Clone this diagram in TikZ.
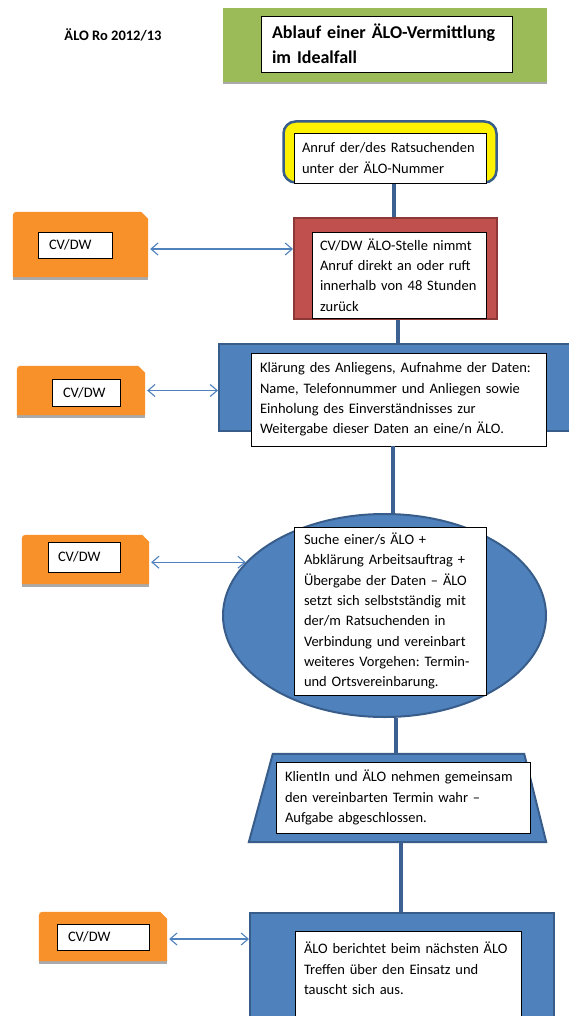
\documentclass[tikz,border=0pt]{standalone}
\usepackage{fontspec}
\setmainfont{Carlito}
\frenchspacing
\usetikzlibrary{positioning,arrows.meta,shapes.geometric}
\definecolor{aloblue}{RGB}{79,129,189}
\definecolor{aloblueline}{RGB}{56,93,138}
\definecolor{alored}{RGB}{192,80,77}
\definecolor{aloredline}{RGB}{140,56,54}
\definecolor{alogreen}{RGB}{155,187,89}
\definecolor{aloorange}{RGB}{248,145,42}
\definecolor{aloshadow}{RGB}{170,170,170}
\definecolor{aloflow}{RGB}{60,96,145}

\tikzset{
  whitebox/.style={draw=black, fill=white, line width=0.8pt, align=left, inner xsep=10pt, inner ysep=0pt, font=\fontsize{14.5}{20.3}\selectfont},
  cvtab/.style={inner sep=0pt},
  flow/.style={draw=aloflow, line width=4pt},
  link/.style={draw=aloblue, line width=1.1pt, shorten <=2pt, {Straight Barb[length=7pt,width=12pt]}-{Straight Barb[length=7pt,width=12pt]}},
}

% orange Lasche hinter einem CV/DW-Knoten
\newcommand{\orangetab}[1]{%
  \fill[aloshadow] ([yshift=-2.5pt]#1.south west) rectangle (#1.south east);
  \fill[aloorange] (#1.south west) -- ([yshift=-8pt]#1.north west)
    .. controls (#1.north west) .. ([xshift=8pt]#1.north west)
    -- ([xshift=-7pt]#1.north east) -- ([yshift=-7pt]#1.north east)
    -- (#1.south east) -- cycle;}

\begin{document}
\begin{tikzpicture}[x=1pt,y=-1pt]
\useasboundingbox (0,0) rectangle (568,1016);

% Kopf
\node[font=\bfseries\fontsize{14.5}{17}\selectfont] (jahr) at (113,35) {ÄLO Ro 2012/13};
\node[fill=alogreen, minimum width=324pt, minimum height=74pt, inner sep=0pt] (kopf) at (385,45) {};
\fill[aloshadow] (kopf.south west) rectangle ([yshift=-2pt]kopf.south east);
\node[whitebox, text width=229pt, inner xsep=11pt, minimum height=56pt, font=\bfseries\fontsize{18}{25}\selectfont] (titel) at (386.5,44) {Ablauf einer ÄLO-Vermittlung\\im Idealfall};

% Anruf
\node[draw=aloblueline, fill=yellow, line width=2.5pt, rounded corners=12pt, minimum width=213pt, minimum height=61pt] (anruf) at (390,152) {};
\node[whitebox, text width=176pt, inner xsep=8pt, minimum height=50pt] (anrufText) at (390,158) {Anruf der/des Ratsuchenden\\unter der ÄLO-Nummer};

% Stelle
\node[draw=aloredline, fill=alored, line width=2pt, minimum width=203pt, minimum height=101pt] (stelle) at (395.5,268.5) {};
\node[whitebox, text width=158pt, inner xsep=8pt, minimum height=86pt] (stelleText) at (399,275) {CV/DW ÄLO-Stelle nimmt\\Anruf direkt an oder ruft\\innerhalb von 48 Stunden\\zurück};

% Klaerung
\node[draw=aloblueline, fill=aloblue, line width=2pt, minimum width=356pt, minimum height=87pt] (klaerung) at (397,387.5) {};
\node[whitebox, text width=277pt, inner xsep=9pt, minimum height=93pt] (klaerungText) at (398.5,399.5) {Klärung des Anliegens, Aufnahme der Daten:\\Name, Telefonnummer und Anliegen sowie\\Einholung des Einverständnisses zur\\Weitergabe dieser Daten an eine/n ÄLO.};

% Suche
\node[ellipse, draw=aloblueline, fill=aloblue, line width=2pt, minimum width=323pt, minimum height=203pt, inner sep=0pt] (suche) at (384.5,615.5) {};
\node[whitebox, text width=172pt, minimum height=168pt] (sucheText) at (390,611) {Suche einer/s ÄLO +\\Abklärung Arbeitsauftrag +\\Übergabe der Daten – ÄLO\\setzt sich selbstständig mit\\der/m Ratsuchenden in\\Verbindung und vereinbart\\weiteres Vorgehen: Termin-\\und Ortsvereinbarung.};

% Termin (Trapez)
\node[inner sep=0pt, minimum width=297pt, minimum height=88pt] (termin) at (397.5,798) {};
\filldraw[draw=aloblueline, fill=aloblue, line width=2pt] (termin.south west) -- ([xshift=24pt]termin.north west)
  -- ([xshift=-22pt]termin.north east) -- (termin.south east) -- cycle;
\node[whitebox, text width=236pt, inner xsep=9pt, minimum height=71pt] (terminText) at (403,797.5) {KlientIn und ÄLO nehmen gemeinsam\\den vereinbarten Termin wahr –\\Aufgabe abgeschlossen.};

% Austausch
\node[draw=aloblueline, fill=aloblue, line width=2pt, minimum width=304pt, minimum height=118pt] (austausch) at (402,972) {};
\node[whitebox, text width=208pt, inner xsep=9pt, minimum height=95pt] (austauschText) at (408,978.5) {ÄLO berichtet beim nächsten ÄLO\\Treffen über den Einsatz und\\tauscht sich aus.\\\mbox{}};

% Verbindungen
\draw[flow] ([xshift=4pt]anruf.south) -- ([xshift=-1.5pt]stelle.north);
\draw[flow] ([xshift=2pt]stelle.south) -- ([xshift=0.5pt]klaerung.north);
\draw[flow] ([xshift=-6pt]klaerungText.south) -- ([xshift=8pt]suche.north);
\draw[flow] ([xshift=11.5pt]suche.south) -- ([xshift=-1.5pt]termin.north);
\draw[flow] ([xshift=3.5pt]termin.south) -- ([xshift=-1pt]austausch.north);

% CV/DW
\node[cvtab, minimum width=135pt, minimum height=65pt] (cv1) at (80.5,244.5) {};
\orangetab{cv1}
\node[whitebox, text width=52pt, inner xsep=11pt, minimum height=26pt] (cv1Text) at (75,245) {CV/DW};
\node[cvtab, minimum width=128pt, minimum height=49pt] (cv2) at (81,390.5) {};
\orangetab{cv2}
\node[whitebox, text width=46pt, inner xsep=11pt, minimum height=27pt] (cv2Text) at (86,392.5) {CV/DW};
\node[cvtab, minimum width=127pt, minimum height=49pt] (cv3) at (85.5,559.5) {};
\orangetab{cv3}
\node[whitebox, text width=52pt, minimum height=30pt] (cv3Text) at (84,557) {CV/DW};
\node[cvtab, minimum width=128pt, minimum height=49pt] (cv4) at (103,936.5) {};
\orangetab{cv4}
\node[whitebox, text width=70pt, inner xsep=11pt, minimum height=26pt] (cv4Text) at (103,937) {CV/DW};

\draw[link] ([yshift=-4.5pt]cv1.east) -- ([yshift=-4.5pt]cv1.east -| stelle.west);
\draw[link] (cv2.east) -- (cv2.east -| klaerung.west);
\draw[link] (cv3.east |- suche.159) -- (suche.159);
\draw[link] ([yshift=-2.5pt]cv4.east) -- ([yshift=-2.5pt]cv4.east -| austausch.west);
\end{tikzpicture}
\end{document}
